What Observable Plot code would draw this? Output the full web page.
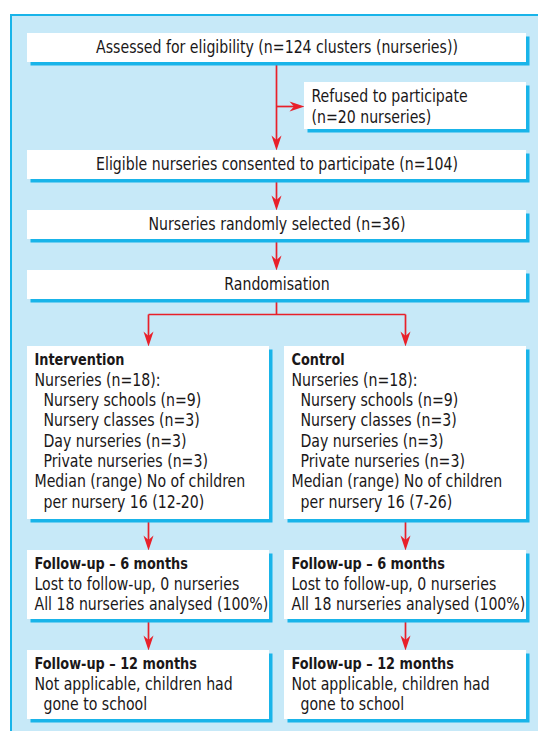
<!DOCTYPE html>
<html>
<head>
<meta charset="utf-8">
<script src="https://cdn.jsdelivr.net/npm/d3@7"></script>
<script src="https://cdn.jsdelivr.net/npm/@observablehq/plot@0.6"></script>
<style>
  html, body { margin: 0; padding: 0; background: #ffffff; }
  #chart svg { display: block; }
</style>
</head>
<body>
<div id="chart"></div>
<script>
// ---------------- DATA ----------------
const stageTexts = [
  "Assessed for eligibility (n=124 clusters (nurseries))",
  "Eligible nurseries consented to participate (n=104)",
  "Nurseries randomly selected (n=36)",
  "Randomisation"
];
const refusedTexts = ["Refused to participate", "(n=20 nurseries)"];
const arms = ["Intervention", "Control"];
const armNurseries = [18, 18];
const nurseryTypes = ["Nursery schools", "Nursery classes", "Day nurseries", "Private nurseries"];
const interventionTypeCounts = [9, 3, 3, 3];
const controlTypeCounts = [9, 3, 3, 3];
const medianChildren = [16, 16];
const rangeChildren = ["12-20", "7-26"];
const followUpTitles = ["Follow-up \u2013 6 months", "Follow-up \u2013 12 months"];
const lostToFollowUp = [0, 0];
const analysedNurseries = [18, 18];
const analysedPct = [100, 100];
const twelveMonthNote = ["Not applicable, children had", "gone to school"];

// ---------------- LAYOUT ----------------
const W = 538, H = 731;
const FONT = "'DejaVu Sans Condensed', 'Liberation Sans Narrow', 'Roboto', sans-serif";
const C = { panel: "#c7e9f8", cyan: "#19b4e9", red: "#e8202a", text: "#1a1718" };
const FS = 15.7, FSB = 14.3;          // font sizes (regular / bold)
const SY = 1.08, SYB = 1.14;          // vertical stretch to mimic a condensed face
const panel = { x: 10.5, y: 14.5 };
const fullX = [27, 526];
const cols = [[27, 269], [284, 526]];
const stageY = [33, 150, 210, 270];
const stageH = 29;
const refusedBox = { x1: 304, x2: 526, y1: 82, y2: 129 };
const armY = [346, 519];
const fu6Y = [550, 619];
const fu12Y = [650, 719];
const padX = 7, firstLine = 13.5, lineH = 20.3, indent = 9, shadowOff = 3.5;
const mainX = (fullX[0] + fullX[1]) / 2 - 0.5;
const colX = cols.map(c => (c[0] + c[1]) / 2);
const refusedY = 106;
const splitY = 314;

// boxes
const boxes = [];
stageY.forEach(y => boxes.push({ x1: fullX[0], x2: fullX[1], y1: y, y2: y + stageH }));
boxes.push(refusedBox);
cols.forEach(c => {
  boxes.push({ x1: c[0], x2: c[1], y1: armY[0], y2: armY[1] });
  boxes.push({ x1: c[0], x2: c[1], y1: fu6Y[0], y2: fu6Y[1] });
  boxes.push({ x1: c[0], x2: c[1], y1: fu12Y[0], y2: fu12Y[1] });
});
const shadows = boxes.map(b => ({ x1: b.x1 + shadowOff, x2: b.x2 + shadowOff, y1: b.y1 + shadowOff, y2: b.y2 + shadowOff }));

// centred single-line texts
const centred = stageTexts.map((t, i) => ({ t, x: (fullX[0] + fullX[1]) / 2, y: stageY[i] + stageH / 2 }));

// left aligned lines
const lines = [];
function addLines(x0, top, arr) {
  arr.forEach((l, i) => lines.push({ t: l.t, bold: !!l.bold, x: x0 + padX + (l.ind ? indent : 0), y: top + firstLine + i * lineH }));
}
addLines(refusedBox.x1, refusedBox.y1 + 1, refusedTexts.map(t => ({ t })));
arms.forEach((arm, a) => {
  const counts = a === 0 ? interventionTypeCounts : controlTypeCounts;
  const armLines = [{ t: arm, bold: true }, { t: `Nurseries (n=${armNurseries[a]}):` }];
  nurseryTypes.forEach((nt, k) => armLines.push({ t: `${nt} (n=${counts[k]})`, ind: true }));
  armLines.push({ t: "Median (range) No of children" });
  armLines.push({ t: `per nursery ${medianChildren[a]} (${rangeChildren[a]})`, ind: true });
  addLines(cols[a][0], armY[0], armLines);
  addLines(cols[a][0], fu6Y[0], [
    { t: followUpTitles[0], bold: true },
    { t: `Lost to follow-up, ${lostToFollowUp[a]} nurseries` },
    { t: `All ${analysedNurseries[a]} nurseries analysed (${analysedPct[a]}%)` }
  ]);
  addLines(cols[a][0], fu12Y[0], [
    { t: followUpTitles[1], bold: true },
    { t: twelveMonthNote[0] },
    { t: twelveMonthNote[1], ind: true }
  ]);
});

// connectors
const links = [
  { x1: mainX, y1: stageY[0] + stageH, x2: mainX, y2: stageY[1] - 6 },
  { x1: mainX, y1: refusedY, x2: refusedBox.x1 - 6, y2: refusedY },
  { x1: mainX, y1: stageY[1] + stageH, x2: mainX, y2: stageY[2] - 6 },
  { x1: mainX, y1: stageY[2] + stageH, x2: mainX, y2: stageY[3] - 6 },
  { x1: mainX, y1: stageY[3] + stageH, x2: mainX, y2: splitY },
  { x1: colX[0], y1: splitY, x2: colX[1], y2: splitY },
  ...colX.flatMap(x => [
    { x1: x, y1: splitY, x2: x, y2: armY[0] - 6 },
    { x1: x, y1: armY[1], x2: x, y2: fu6Y[0] - 6 },
    { x1: x, y1: fu6Y[1], x2: x, y2: fu12Y[0] - 6 }
  ])
];
const downHeads = [
  ...[1, 2, 3].map(i => ({ x: mainX, y: stageY[i] })),
  ...colX.flatMap(x => [{ x, y: armY[0] }, { x, y: fu6Y[0] }, { x, y: fu12Y[0] }])
];
const rightHeads = [{ x: refusedBox.x1, y: refusedY }];

const arrowHead = {
  draw(ctx) {
    ctx.moveTo(0, 0);
    ctx.lineTo(-5, -15);
    ctx.lineTo(0, -10.5);
    ctx.lineTo(5, -15);
    ctx.closePath();
  }
};

const chart = Plot.plot({
  width: W,
  height: H,
  margin: 0,
  x: { domain: [0, W], range: [0, W], axis: null },
  y: { domain: [0, H], range: [0, H], axis: null },
  style: { fontFamily: FONT, background: "#ffffff", overflow: "visible" },
  marks: [
    Plot.rect([{ x1: panel.x, x2: W + 5, y1: panel.y, y2: H + 5 }], { x1: "x1", x2: "x2", y1: "y1", y2: "y2", fill: C.panel }),
    Plot.link([{ x1: panel.x, y1: panel.y, x2: panel.x, y2: H + 5 }, { x1: panel.x - 1, y1: panel.y, x2: W + 5, y2: panel.y }],
      { x1: "x1", y1: "y1", x2: "x2", y2: "y2", stroke: C.cyan, strokeWidth: 2 }),
    Plot.link(links, { x1: "x1", y1: "y1", x2: "x2", y2: "y2", stroke: C.red, strokeWidth: 1.7 }),
    Plot.dot(downHeads, { x: "x", y: "y", symbol: arrowHead, fill: C.red, stroke: "none", r: 5 }),
    Plot.dot(rightHeads, { x: "x", y: "y", symbol: arrowHead, fill: C.red, stroke: "none", r: 5, rotate: -90 }),
    Plot.rect(shadows, { x1: "x1", x2: "x2", y1: "y1", y2: "y2", fill: C.cyan }),
    Plot.rect(boxes, { x1: "x1", x2: "x2", y1: "y1", y2: "y2", fill: "#ffffff" }),
    Plot.text(centred, { x: "x", y: "y", text: "t", fill: C.text, fontSize: FS, textAnchor: "middle" }),
    Plot.text(lines.filter(d => !d.bold), { x: "x", y: "y", text: "t", fill: C.text, fontSize: FS, textAnchor: "start" }),
    Plot.text(lines.filter(d => d.bold), { x: "x", y: "y", text: "t", fill: C.text, fontSize: FSB, fontWeight: "bold", textAnchor: "start" })
  ]
});

// stretch text glyphs vertically (about their anchor) to mimic the narrow, tall typeface
chart.querySelectorAll("text").forEach(t => {
  const g = t.closest("g[font-weight]");
  const k = g && String(g.getAttribute("font-weight")) === "bold" ? SYB : SY;
  let tr = t.getAttribute("transform");
  if (!tr) {
    const x = +t.getAttribute("x") || 0, y = +t.getAttribute("y") || 0;
    t.removeAttribute("x"); t.removeAttribute("y");
    tr = `translate(${x},${y})`;
  }
  t.setAttribute("transform", `${tr} scale(1,${k})`);
});
document.getElementById("chart").appendChild(chart);
</script>
</body>
</html>
